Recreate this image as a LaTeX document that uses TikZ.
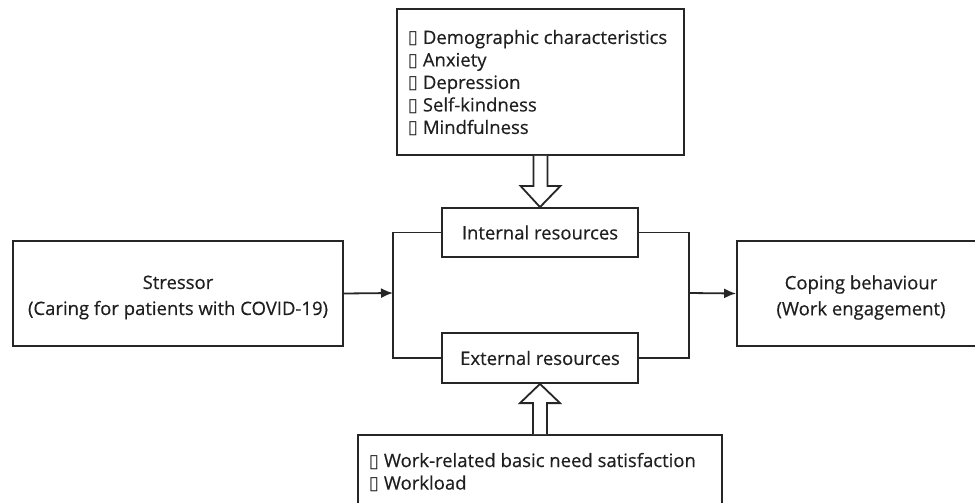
\documentclass[tikz,border=0pt]{standalone}
\usepackage{fontspec}
\setmainfont{Open Sans}[FakeBold=0.35]
\newfontfamily\symfont{DejaVu Sans}
\usetikzlibrary{calc,arrows.meta}
\newcommand{\sqb}{{\symfont\char"25AF}}
\newcommand{\dnline}[1]{\raisebox{-4pt}[\height][\depth]{#1}}
\begin{document}
\begin{tikzpicture}[x=1pt,y=-1pt,line width=1.8pt,
  box/.style={draw=black!85,inner sep=0pt,align=center,text=black!88,font=\fontsize{18.5}{26}\selectfont},
  lst/.style={inner sep=0pt,align=left,text=black!88,font=\fontsize{18.5}{22.5}\selectfont},
  conn/.style={draw=black!85},
  arr/.style={conn,-{Latex[length=12pt,width=10pt]}},
  hollow/.style={draw=black!85,fill=white,line join=miter}]
\useasboundingbox (0,0) rectangle (975,503);
\clip (0,0) rectangle (975,503);
\fill[white] (0,0) rectangle (975,503);
% boxes
\node[box,minimum width=287pt,minimum height=146pt] (demo) at (540.5,82) {};
\node[lst,anchor=north west] (demotxt) at (407,29) {\sqb\ Demographic characteristics\\ \sqb\ Anxiety\\ \sqb\ Depression\\ \sqb\ Self-kindness\\ \sqb\ Mindfulness};
\node[box,minimum width=196pt,minimum height=49pt] (int) at (540,232.5) {Internal resources};
\node[box,minimum width=196pt,minimum height=50pt] (ext) at (540,358) {External resources};
\node[box,minimum width=330pt,minimum height=105pt] (stress) at (178,293.5) {\dnline{Stressor}\\\dnline{(Caring for patients with COVID-19)}};
\node[box,minimum width=248pt,minimum height=105pt] (cope) at (861,293.5) {\dnline{Coping behaviour}\\\dnline{(Work engagement)}};
\node[box,minimum width=364pt,minimum height=95pt] (work) at (540,482.5) {};
\node[lst,anchor=north west] (worktxt) at (368,452) {\sqb\ Work-related basic need satisfaction\\ \sqb\ Workload};
% junctions
\coordinate (jl) at (393,293);
\coordinate (jr) at (689,293);
\draw[conn] (int.west) -| (jl);
\draw[conn] (ext.west) -| (jl);
\draw[conn] (int.east) -| (jr);
\draw[conn] (ext.east) -| (jr);
\draw[arr] (stress.east) -- (jl);
\draw[arr] (jr) -- (cope.west);
% hollow arrows
\draw[hollow] ($(demo.south)+(-7,0)$) -- ++(0,30) -- ++(-13,0) -- (int.north) -- ($(demo.south)+(20,30)$) -- ++(-13,0) -- ($(demo.south)+(7,0)$);
\draw[hollow] ($(work.north)+(-7,0)$) -- ++(0,-31) -- ++(-13,0) -- (ext.south) -- ($(work.north)+(20,-31)$) -- ++(-13,0) -- ($(work.north)+(7,0)$);
\end{tikzpicture}
\end{document}
